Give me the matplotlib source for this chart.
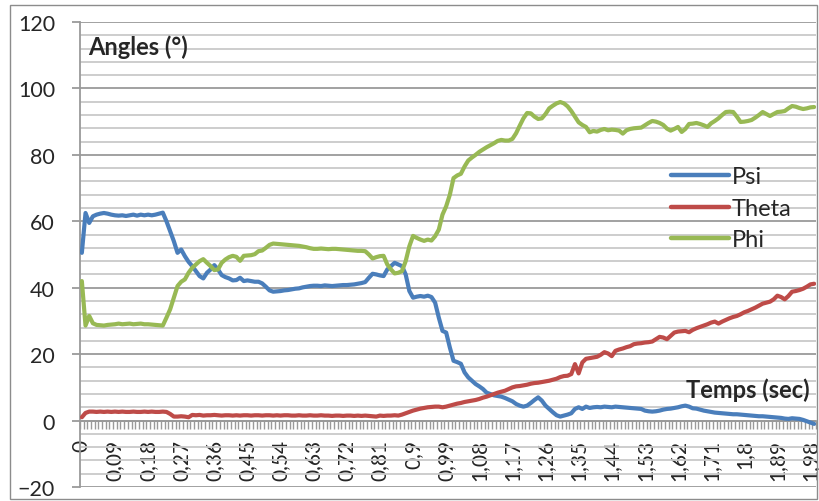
import numpy as np
import matplotlib

matplotlib.use('Agg')
import matplotlib.pyplot as plt
from matplotlib.patches import Rectangle
from matplotlib.ticker import FixedLocator, MultipleLocator

# time categories, one sample every 0.01 s
times = np.round(np.arange(200) * 0.01, 2)

psi = [
    50.5, 62.5, 59.5, 61.5, 62.0, 62.3, 62.5, 62.3, 62.0, 61.8,
    61.7, 61.8, 61.6, 61.8, 62.0, 61.7, 62.0, 61.8, 62.0, 61.8,
    62.0, 62.3, 62.6, 60.0, 57.0, 54.0, 50.5, 51.5, 49.5, 47.8,
    46.5, 45.0, 43.5, 42.8, 44.5, 45.5, 46.8, 45.5, 43.8, 43.2,
    42.8, 42.2, 42.3, 43.0, 42.0, 42.2, 42.0, 41.8, 41.8, 41.3,
    40.3, 39.2, 38.8, 38.9, 39.0, 39.2, 39.3, 39.5, 39.7, 39.8,
    40.1, 40.3, 40.5, 40.6, 40.6, 40.5, 40.7, 40.6, 40.5, 40.6,
    40.7, 40.8, 40.8, 40.9, 41.0, 41.2, 41.4, 41.7, 43.0, 44.2,
    44.0, 43.7, 43.5, 45.5, 46.5, 47.5, 47.0, 46.5, 44.0, 39.0,
    37.0, 37.3, 37.5, 37.3, 37.6, 37.2, 35.5, 31.0, 27.0, 26.5,
    22.0, 18.0, 17.6, 17.1, 14.5, 13.0, 12.0, 11.0, 10.3, 9.5,
    8.4, 8.0, 7.6, 7.4, 7.2, 6.8, 6.3, 5.8, 5.0, 4.5,
    4.2, 4.5, 5.3, 6.2, 7.0, 6.0, 4.5, 3.5, 2.5, 1.6,
    1.2, 1.5, 1.8, 2.2, 3.5, 4.0, 3.5, 4.2, 3.8, 4.0,
    4.1, 4.0, 4.2, 4.1, 4.0, 4.2, 4.1, 4.0, 3.9, 3.8,
    3.7, 3.6, 3.5, 3.0, 2.8, 2.7, 2.8, 3.0, 3.3, 3.5,
    3.6, 3.8, 4.0, 4.3, 4.5, 4.2, 3.7, 3.6, 3.3, 3.0,
    2.8, 2.6, 2.4, 2.3, 2.2, 2.1, 2.0, 1.9, 1.9, 1.8,
    1.7, 1.6, 1.5, 1.4, 1.3, 1.3, 1.2, 1.1, 1.0, 0.9,
    0.8, 0.6, 0.5, 0.7, 0.6, 0.5, 0.2, -0.2, -0.6, -1.0,
]

theta = [
    1.0, 2.3, 2.7, 2.7, 2.6, 2.7, 2.6, 2.7, 2.6, 2.7,
    2.6, 2.7, 2.6, 2.6, 2.7, 2.6, 2.6, 2.7, 2.6, 2.7,
    2.6, 2.6, 2.7, 2.6, 2.0, 1.2, 1.2, 1.3, 1.2, 1.0,
    1.7, 1.6, 1.7, 1.5, 1.6, 1.6, 1.7, 1.6, 1.5, 1.6,
    1.6, 1.5, 1.6, 1.5, 1.6, 1.6, 1.5, 1.6, 1.6, 1.5,
    1.6, 1.6, 1.5, 1.6, 1.5, 1.6, 1.6, 1.5, 1.5, 1.6,
    1.5, 1.5, 1.6, 1.5, 1.5, 1.6, 1.5, 1.5, 1.4, 1.5,
    1.5, 1.4, 1.5, 1.5, 1.4, 1.5, 1.4, 1.5, 1.4, 1.3,
    1.2, 1.5, 1.4, 1.5, 1.5, 1.6, 1.5, 1.8, 2.2, 2.6,
    3.0, 3.3, 3.6, 3.8, 4.0, 4.1, 4.2, 4.2, 4.0, 4.2,
    4.5, 4.8, 5.1, 5.3, 5.6, 5.8, 6.0, 6.2, 6.5, 6.9,
    7.2, 7.6, 8.0, 8.4, 8.7, 9.0, 9.5, 10.0, 10.3, 10.4,
    10.6, 10.8, 11.1, 11.3, 11.4, 11.6, 11.8, 12.0, 12.3, 12.6,
    13.1, 13.4, 13.5, 14.0, 17.0, 14.2, 17.5, 18.6, 18.8, 19.0,
    19.2, 19.8, 20.6, 20.2, 19.4, 21.0, 21.4, 21.7, 22.1, 22.4,
    23.0, 23.2, 23.3, 23.5, 23.6, 23.8, 24.5, 25.2, 25.0, 24.5,
    25.5, 26.5, 26.8, 26.9, 27.0, 26.6, 27.3, 27.8, 28.2, 28.6,
    29.0, 29.5, 29.8, 29.2, 29.8, 30.3, 30.8, 31.2, 31.5, 32.0,
    32.6, 33.0, 33.5, 34.0, 34.6, 35.2, 35.5, 35.8, 36.5, 37.6,
    37.2, 36.5, 37.5, 38.8, 39.0, 39.3, 39.7, 40.3, 41.0, 41.2,
]

phi = [
    42.0, 28.6, 31.5, 29.3, 28.8, 28.7, 28.6, 28.8, 28.9, 29.0,
    29.2, 29.0, 29.1, 29.2, 29.0, 29.1, 29.2, 29.0, 29.0, 28.9,
    28.8, 28.7, 28.6, 31.0, 33.5, 37.0, 40.5, 41.8, 42.5, 44.5,
    46.0, 47.0, 48.0, 48.6, 47.5, 46.5, 45.3, 45.5, 47.5, 48.5,
    49.2, 49.6, 49.3, 48.1, 49.6, 49.7, 49.8, 50.1, 51.0, 51.2,
    52.0, 52.9, 53.3, 53.2, 53.1, 53.0, 52.9, 52.8, 52.7, 52.6,
    52.4, 52.2, 51.9, 51.7, 51.7, 51.8, 51.7, 51.6, 51.7, 51.7,
    51.6, 51.5, 51.4, 51.3, 51.2, 51.1, 51.1, 51.0, 50.0, 48.8,
    49.2, 49.5, 49.6, 47.0, 45.5, 44.3, 44.5, 45.0, 48.0, 52.5,
    55.6, 55.0, 54.5, 54.1, 54.5, 54.2, 55.5, 57.5, 62.0, 64.5,
    68.0, 73.0, 73.8, 74.3, 76.5, 78.3, 79.2, 80.0, 80.9, 81.6,
    82.3, 82.9, 83.5, 84.2, 84.5, 84.3, 84.3, 84.8, 86.5, 88.8,
    91.0, 92.6, 92.5, 91.5, 90.8, 91.0, 92.3, 94.0, 94.8, 95.5,
    95.9, 95.5, 94.6, 93.2, 91.5, 89.8, 89.0, 88.4, 86.8, 87.2,
    87.0, 87.5, 87.8, 87.4, 87.6, 87.5, 87.3, 86.4, 87.4, 87.8,
    88.0, 88.1, 88.2, 88.9, 89.6, 90.2, 90.0, 89.6, 89.0, 87.9,
    87.3, 87.8, 88.4, 86.9, 87.8, 89.3, 89.4, 89.6, 89.3, 88.9,
    88.4, 89.5, 90.2, 91.0, 92.0, 92.9, 93.0, 92.9, 91.5, 89.9,
    90.0, 90.2, 90.5, 91.2, 92.0, 92.9, 92.3, 91.7, 92.3, 92.9,
    93.0, 93.2, 94.0, 94.7, 94.5, 94.1, 93.8, 94.0, 94.3, 94.4,
]

series_names = ['Psi', 'Theta', 'Phi']
series_colors = ['#4A7EBB', '#BE4B48', '#98B954']

plt.rcParams['font.family'] = ['Lato', 'DejaVu Sans']

fig = plt.figure(figsize=(8.19, 5.02), dpi=100)
ax = fig.add_axes([80 / 819, 14 / 502, 736 / 819, 465 / 502])

# chart area border
fig.patches.append(Rectangle((10 / 819, 2 / 502), 807 / 819, 494 / 502,
                             transform=fig.transFigure, fill=False,
                             edgecolor='#8c8c8c', lw=1.0))

x = np.arange(len(times))
for vals, name, col in zip([psi, theta, phi], series_names, series_colors):
    ax.plot(x, vals, color=col, lw=3.0, label=name,
            solid_joinstyle='round', solid_capstyle='round', zorder=3)

ax.set_ylim(-20, 120)
ax.set_xlim(-0.5, len(times) - 0.5)

# gridlines
ax.yaxis.set_major_locator(MultipleLocator(20))
ax.yaxis.set_minor_locator(MultipleLocator(4))
ax.grid(axis='y', which='major', color='#9a9a9a', lw=1.3, zorder=0)
ax.grid(axis='y', which='minor', color='#c9c9c9', lw=1.3, zorder=0)
ax.set_axisbelow(True)

for s in ['top', 'right']:
    ax.spines[s].set_visible(False)
ax.spines['left'].set_color('#9a9a9a')
ax.spines['left'].set_linewidth(1.3)
ax.spines['bottom'].set_position(('data', 0))
ax.spines['bottom'].set_color('#9a9a9a')
ax.spines['bottom'].set_linewidth(1.3)

ax.tick_params(axis='y', which='major', length=6, width=1.3, color='#9a9a9a',
               labelsize=15.5, labelcolor='#262626', pad=12)
ax.tick_params(axis='y', which='minor', length=0)

# category labels every 9 samples, ticks between every category
label_idx = list(range(0, len(times), 9))
x_labels = [f"{times[i]:g}".replace('.', ',') for i in label_idx]
ax.xaxis.set_major_locator(FixedLocator(label_idx))
ax.set_xticklabels(x_labels, rotation=90, va='top', ha='center')
ax.xaxis.set_minor_locator(FixedLocator(np.arange(-0.5, len(times), 1.0)))
ax.tick_params(axis='x', which='major', length=0, labelsize=15,
               labelcolor='#262626', pad=13)
ax.tick_params(axis='x', which='minor', length=6, width=1.0, color='#9a9a9a')

ax.text(0.011, 0.949, 'Angles (°)', transform=ax.transAxes, fontsize=17,
        fontweight='bold', color='#262626', va='center', ha='left')
ax.text(0.992, 0.21, 'Temps (sec)', transform=ax.transAxes, fontsize=17,
        fontweight='bold', color='#262626', va='center', ha='right')

leg = ax.legend(loc='upper left', bbox_to_anchor=(0.803, 0.69), frameon=False,
                fontsize=17, handlelength=2.45, handletextpad=0.12,
                labelspacing=0.45, borderpad=0, borderaxespad=0)
for t in leg.get_texts():
    t.set_color('#262626')
for h in leg.get_lines():
    h.set_linewidth(3.2)

fig.savefig('out.png', dpi=100)
